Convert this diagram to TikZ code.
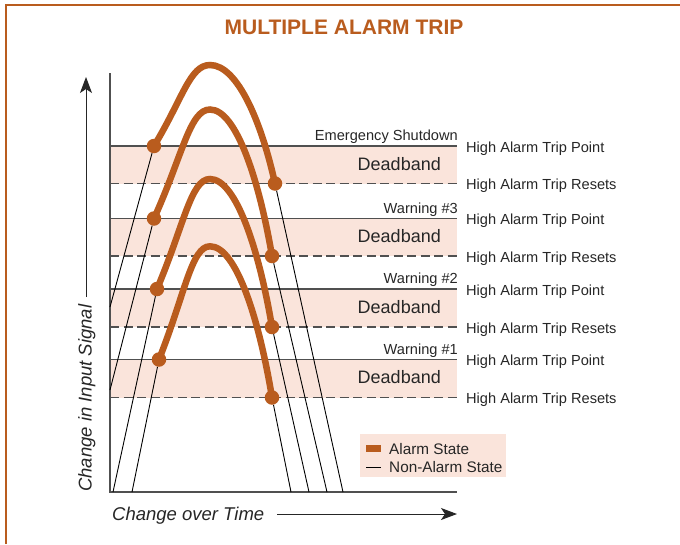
\documentclass[tikz,border=0pt]{standalone}
\usepackage{fontspec}
\setmainfont{Liberation Sans}
\usetikzlibrary{arrows.meta}
\definecolor{rust}{RGB}{185,92,30}
\definecolor{pinkband}{RGB}{250,228,219}
\definecolor{linegray}{RGB}{80,80,80}
\tikzstyle{alarmdot}=[circle,fill=rust,inner sep=0pt,minimum size=14.5pt]
\tikzstyle{alarm}=[rust,line width=6.5pt,line cap=round]
\tikzstyle{signal}=[black,line width=0.9pt]
\tikzstyle{tripline}=[linegray,line width=1.4pt]
\tikzstyle{resetline}=[linegray,line width=1.4pt,dash pattern=on 9pt off 4.5pt]
\tikzstyle{deadband}=[fill=pinkband]
\tikzstyle{lvl}=[font=\fontsize{14.6}{16}\selectfont,inner sep=0pt,text=black!85]
\tikzstyle{bandtext}=[font=\fontsize{18}{20}\selectfont,inner sep=0pt,text=black!85,anchor=base east]
\tikzstyle{axislabel}=[font=\itshape\fontsize{18.5}{20}\selectfont,inner sep=0pt,text=black!85]

\begin{document}
\begin{tikzpicture}[x=1pt,y=-1pt]
\useasboundingbox (0,0) rectangle (680,544);

\draw[rust,line width=2.5pt] (6,544) -- (6,5) -- (680,5);
\node[font=\bfseries\fontsize{21}{24}\selectfont,text=rust] (title) at (344,27) {MULTIPLE ALARM TRIP};

% deadbands
\fill[deadband] (110,146) rectangle (457,183.5);
\fill[deadband] (110,218.5) rectangle (457,256);
\fill[deadband] (110,289) rectangle (457,327);
\fill[deadband] (110,359.5) rectangle (457,397.5);

\draw[tripline] (110,146) -- (457,146);
\draw[tripline] (110,218.5) -- (457,218.5);
\draw[tripline] (110,289) -- (457,289);
\draw[tripline] (110,359.5) -- (457,359.5);
\draw[resetline] (110,183.5) -- (457,183.5);
\draw[resetline] (110,256) -- (457,256);
\draw[resetline] (110,327) -- (457,327);
\draw[resetline] (110,397.5) -- (457,397.5);

\node[lvl,anchor=base east] (lvl1) at (458,140.7) {Emergency Shutdown};
\node[lvl,anchor=base east] (lvl2) at (458,213.2) {Warning \#3};
\node[lvl,anchor=base east] (lvl3) at (458,283.7) {Warning \#2};
\node[lvl,anchor=base east] (lvl4) at (458,354.2) {Warning \#1};

\node[bandtext] (db1) at (441,170.2) {Deadband};
\node[bandtext] (db2) at (441,242.7) {Deadband};
\node[bandtext] (db3) at (441,313.2) {Deadband};
\node[bandtext] (db4) at (441,383.7) {Deadband};

\node[lvl,anchor=base west] (tp1) at (466,152) {High Alarm Trip Point};
\node[lvl,anchor=base west] (rs1) at (466,189.5) {High Alarm Trip Resets};
\node[lvl,anchor=base west] (tp2) at (466,224.5) {High Alarm Trip Point};
\node[lvl,anchor=base west] (rs2) at (466,262) {High Alarm Trip Resets};
\node[lvl,anchor=base west] (tp3) at (466,295) {High Alarm Trip Point};
\node[lvl,anchor=base west] (rs3) at (466,333) {High Alarm Trip Resets};
\node[lvl,anchor=base west] (tp4) at (466,365.5) {High Alarm Trip Point};
\node[lvl,anchor=base west] (rs4) at (466,403.5) {High Alarm Trip Resets};

% axes
\draw[linegray,line width=1.3pt] (110,73) -- (110,492) -- (457,492);
\node[axislabel,rotate=90,anchor=base west] (ylab) at (91.5,492) {Change in Input Signal};
\node[axislabel,anchor=base west] (xlab) at (112,520) {Change over Time};
\coordinate (yfrom) at (86,297);
\coordinate (yto) at (86,77);
\coordinate (xfrom) at (277,514);
\coordinate (xto) at (457,514);
\draw[black!85,line width=1pt,-{Stealth[length=16pt,width=12pt,inset=4pt]}] (yfrom) -- (yto);
\draw[black!85,line width=1pt,-{Stealth[length=16pt,width=12pt,inset=4pt]}] (xfrom) -- (xto);

% trip and reset points
\node[alarmdot] (t1) at (154,146) {};
\node[alarmdot] (t2) at (154,218.5) {};
\node[alarmdot] (t3) at (157,289) {};
\node[alarmdot] (t4) at (159,359.5) {};
\node[alarmdot] (r1) at (275,183.5) {};
\node[alarmdot] (r2) at (272,256) {};
\node[alarmdot] (r3) at (272,327) {};
\node[alarmdot] (r4) at (272,397.5) {};

\coordinate (p1) at (210,65);
\coordinate (p2) at (210,109.5);
\coordinate (p3) at (210,179);
\coordinate (p4) at (210,246.3);

\coordinate (b1) at (110,307);
\coordinate (b2) at (110,390);
\coordinate (b3) at (113,492);
\coordinate (b4) at (132,492);
\coordinate (d1) at (343,492);
\coordinate (d2) at (327,492);
\coordinate (d3) at (309,492);
\coordinate (d4) at (291,492);

\draw[signal] (b1) -- (t1) (b2) -- (t2) (b3) -- (t3) (b4) -- (t4);
\draw[signal] (r1) -- (d1) (r2) -- (d2) (r3) -- (d3) (r4) -- (d4);

\draw[alarm] (t1.center) .. controls (182.6,99) and (189.8,65) .. (p1) .. controls (238,65) and (262,124.2) .. (r1.center);
\draw[alarm] (t2.center) .. controls (182.6,155.3) and (189.8,109.5) .. (p2) .. controls (236.7,109.5) and (259.6,182.7) .. (r2.center);
\draw[alarm] (t3.center) .. controls (184,225.2) and (190.9,179) .. (p3) .. controls (236.7,179) and (259.6,253) .. (r3.center);
\draw[alarm] (t4.center) .. controls (185,293.8) and (191.6,246.3) .. (p4) .. controls (236.7,246.3) and (259.6,321.9) .. (r4.center);

% legend
\fill[deadband] (360,434) rectangle (506,477);
\fill[rust] (366,444.5) rectangle (381,451.5);
\draw[signal] (366,467) -- (381,467);
\node[lvl,anchor=base west,font=\fontsize{15.3}{17}\selectfont] (lg1) at (389,454) {Alarm State};
\node[lvl,anchor=base west,font=\fontsize{15.3}{17}\selectfont] (lg2) at (389,472.3) {Non-Alarm State};
\end{tikzpicture}
\end{document}
